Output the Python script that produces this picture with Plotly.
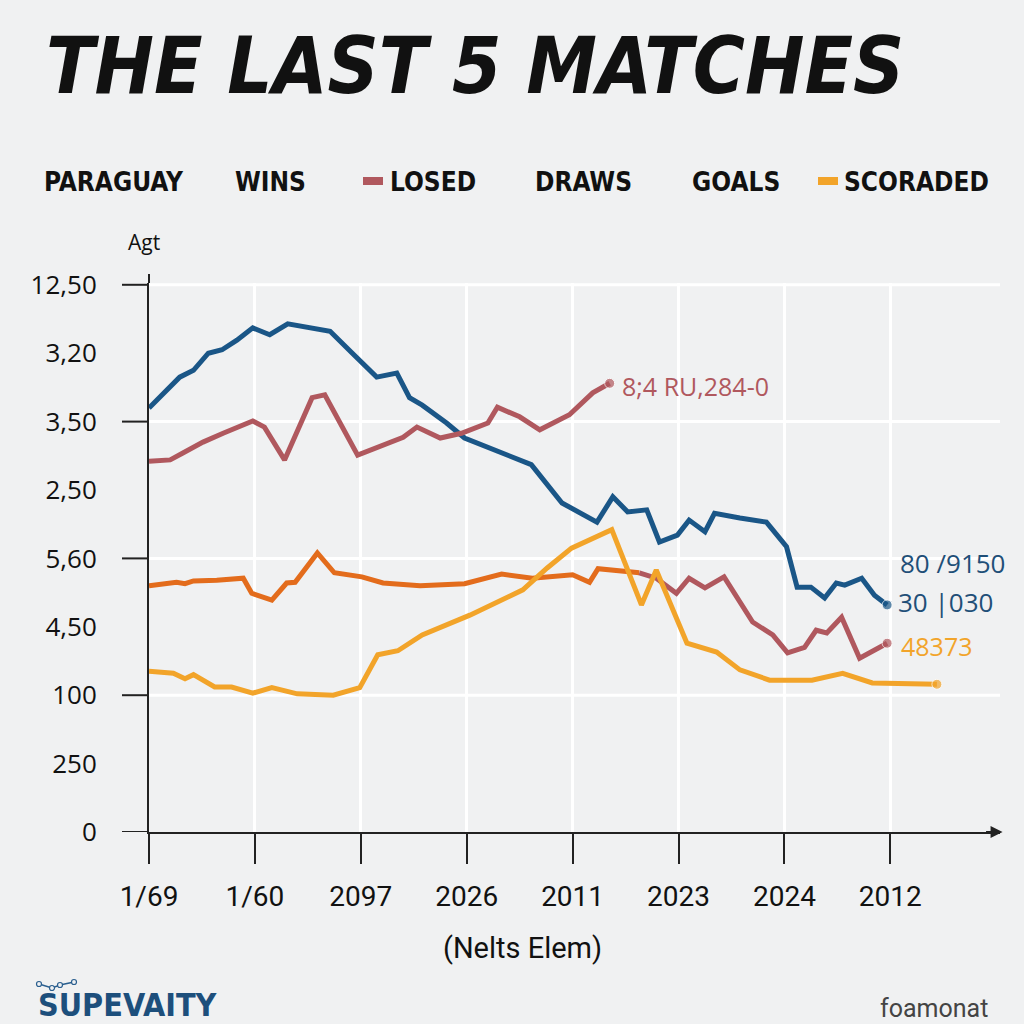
import plotly.graph_objects as go

# ---------------- data ----------------
x_tick_labels = ["1/69", "1/60", "2097", "2026", "2011", "2023", "2024", "2012"]
y_tick_labels = ["0", "250", "100", "4,50", "5,60", "2,50", "3,50", "3,20", "12,50"]
y_major_ticks = [0, 2, 4, 6, 8]

wins_x = [0, 0.15, 0.29, 0.42, 0.56, 0.69, 0.83, 0.98, 1.14, 1.31, 1.52, 1.71, 1.92, 2.15,
          2.34, 2.46, 2.58, 2.81, 2.98, 3.31, 3.61, 3.90, 4.23, 4.38, 4.52, 4.70, 4.82,
          4.99, 5.10, 5.25, 5.34, 5.58, 5.83, 6.02, 6.12, 6.25, 6.38, 6.49, 6.57, 6.73,
          6.85, 6.97]
wins_y = [6.20, 6.43, 6.65, 6.75, 7.00, 7.05, 7.19, 7.37, 7.27, 7.43, 7.38, 7.32, 7.00, 6.65,
          6.71, 6.35, 6.24, 5.98, 5.76, 5.56, 5.37, 4.81, 4.53, 4.90, 4.68, 4.71, 4.24,
          4.34, 4.56, 4.39, 4.66, 4.59, 4.53, 4.17, 3.58, 3.58, 3.42, 3.64, 3.61, 3.71,
          3.46, 3.32]

losed_x = [0, 0.20, 0.32, 0.51, 0.70, 0.98, 1.09, 1.28, 1.54, 1.66, 1.97, 2.18, 2.40, 2.53,
           2.75, 2.95, 3.20, 3.29, 3.50, 3.69, 3.97, 4.19, 4.35]
losed_y = [5.42, 5.44, 5.54, 5.70, 5.83, 6.01, 5.92, 5.44, 6.35, 6.39, 5.51, 5.63, 5.77, 5.92,
           5.76, 5.83, 5.98, 6.21, 6.07, 5.88, 6.10, 6.42, 6.56]

draws_x = [0, 0.20, 0.26, 0.34, 0.42, 0.64, 0.89, 0.97, 1.16, 1.30, 1.38, 1.59, 1.75, 2.01,
           2.21, 2.56, 2.98, 3.33, 3.62, 4.00, 4.16, 4.24, 4.63,
           4.79, 4.98, 5.10, 5.25, 5.43, 5.70, 5.89, 6.03, 6.19, 6.30, 6.40, 6.54, 6.71, 6.97]
draws_y = [3.60, 3.64, 3.65, 3.63, 3.67, 3.68, 3.71, 3.49, 3.39, 3.64, 3.65, 4.08, 3.79, 3.73,
           3.64, 3.60, 3.63, 3.77, 3.71, 3.76, 3.65, 3.85, 3.79,
           3.71, 3.49, 3.71, 3.57, 3.73, 3.07, 2.88, 2.62, 2.70, 2.95, 2.91, 3.14, 2.54, 2.76]
draws_color_split = 23   # points after this index are drawn in the "losed" colour

scored_x = [0, 0.23, 0.34, 0.42, 0.62, 0.78, 0.98, 1.16, 1.40, 1.74, 1.99, 2.16, 2.35, 2.58,
            3.03, 3.53, 3.76, 3.99, 4.37, 4.65, 4.79, 5.08, 5.36, 5.58, 5.86, 6.26, 6.55,
            6.83, 7.44]
scored_y = [2.35, 2.32, 2.24, 2.30, 2.12, 2.12, 2.03, 2.11, 2.02, 2.00, 2.11, 2.59, 2.65, 2.88,
            3.17, 3.54, 3.86, 4.15, 4.42, 3.32, 3.83, 2.76, 2.63, 2.37, 2.22, 2.22, 2.32,
            2.18, 2.16]

legend_items = ["PARAGUAY", "WINS", "LOSED", "DRAWS", "GOALS", "SCORADED"]

# ---------------- styling ----------------
BG = "#f0f1f2"
BLUE = "#1a5687"
MAUVE = "#b0585e"
ORANGE = "#e36c1c"
YELLOW = "#f2a42a"
INK = "#111111"
COND = "DejaVu Sans Condensed, Roboto Condensed, Liberation Sans Narrow, Roboto, sans-serif"
REG = "Roboto, sans-serif"

W, H = 1024, 1024
L, R, T, B = 149, 24, 283, 192
PW, PH = W - L - R, H - T - B


def px_x(px):
    return (px - L) / PW


def px_y(py):
    return (H - B - py) / PH


def end_sizes(n, s=10):
    return [0] * (n - 1) + [s]


fig = go.Figure()

fig.add_trace(go.Scatter(x=wins_x, y=wins_y, mode="lines+markers",
                         line=dict(color=BLUE, width=5),
                         marker=dict(size=end_sizes(len(wins_x)), color=BLUE),
                         showlegend=False))
fig.add_trace(go.Scatter(x=losed_x, y=losed_y, mode="lines+markers",
                         line=dict(color=MAUVE, width=5),
                         marker=dict(size=end_sizes(len(losed_x)), color=MAUVE),
                         showlegend=False))
k = draws_color_split
fig.add_trace(go.Scatter(x=draws_x[:k], y=draws_y[:k], mode="lines",
                         line=dict(color=ORANGE, width=5), showlegend=False))
fig.add_trace(go.Scatter(x=draws_x[k - 1:], y=draws_y[k - 1:], mode="lines+markers",
                         line=dict(color=MAUVE, width=5),
                         marker=dict(size=end_sizes(len(draws_x[k - 1:])), color=MAUVE),
                         showlegend=False))
fig.add_trace(go.Scatter(x=scored_x, y=scored_y, mode="lines+markers",
                         line=dict(color=YELLOW, width=5),
                         marker=dict(size=end_sizes(len(scored_x)), color=YELLOW),
                         showlegend=False))

shapes = []
# horizontal white gridlines + left tick marks at the major ticks
for v in y_major_ticks:
    if v > 0:
        shapes.append(dict(type="line", xref="paper", yref="y", x0=0, x1=1, y0=v, y1=v,
                           line=dict(color="white", width=3), layer="below"))
    shapes.append(dict(type="line", xref="paper", yref="y", x0=px_x(122), x1=0, y0=v, y1=v,
                       line=dict(color="#222", width=2)))
# short extension of the y-axis line above the plot area
shapes.append(dict(type="line", xref="paper", yref="paper", x0=0, x1=0, y0=1, y1=px_y(274),
                   line=dict(color="#222", width=2)))

# legend swatches
shapes.append(dict(type="rect", xref="paper", yref="paper", x0=px_x(363), x1=px_x(383),
                   y0=px_y(185), y1=px_y(177), fillcolor=MAUVE, line=dict(width=0)))
shapes.append(dict(type="rect", xref="paper", yref="paper", x0=px_x(818), x1=px_x(838),
                   y0=px_y(185), y1=px_y(177), fillcolor=YELLOW, line=dict(width=0)))

# small logo icon
logo_col = "#2a5f8f"
shapes.append(dict(type="path", xref="paper", yref="paper",
                   path="M {} {} L {} {} L {} {} L {} {}".format(
                       px_x(39), px_y(984), px_x(52), px_y(988), px_x(60), px_y(985), px_x(74), px_y(982)),
                   line=dict(color=logo_col, width=1.5)))
for cx, cy in [(39, 984), (52, 988), (60, 985), (74, 982)]:
    shapes.append(dict(type="circle", xref="paper", yref="paper",
                       x0=px_x(cx - 2.5), x1=px_x(cx + 2.5), y0=px_y(cy + 2.5), y1=px_y(cy - 2.5),
                       line=dict(color=logo_col, width=1.2), fillcolor=BG))

annotations = []


def txt(text, x, y, size, color=INK, family=COND, xanchor="left", weight="normal", italic=False):
    annotations.append(dict(text=text, x=px_x(x), y=px_y(y), xref="paper", yref="paper",
                            xanchor=xanchor, yanchor="middle", showarrow=False,
                            font=dict(family=family, size=size, color=color, weight=weight,
                                      style="italic" if italic else "normal")))


# title
txt("THE LAST 5 MATCHES", 44, 66, 79, weight=900, italic=True)

# legend row
legend_x = [42, 233, 388, 533, 690, 842]
for lab, lx in zip(legend_items, legend_x):
    txt(lab, lx, 182, 26, weight="bold")

txt("Agt", 126, 242, 21, family="Open Sans")

# end-of-line labels
txt("8;4 RU,284-0", 620, 386, 25, color=MAUVE, family="Open Sans")
txt("80 /9150", 898, 563, 26, color="#1f4f78", family="Open Sans")
txt("30 |030", 896, 602, 26, color="#1f4f78", family="Open Sans")
txt("48373", 899, 646, 25, color=YELLOW, family="Open Sans")

# axis title & footer
txt("(Nelts Elem)", 522, 948, 29, family=REG, xanchor="center")
txt("SUPEVAITY", 36, 1005, 32, color="#1d4f7c", family=COND, weight="bold")
txt("foamonat", 990, 1008, 25, color="#444444", family=REG, xanchor="right")

# arrow at the end of the x-axis
annotations.append(dict(x=1.003, y=0, xref="paper", yref="y", ax=-18, ay=0,
                        showarrow=True, arrowhead=2, arrowsize=1.2, arrowwidth=2,
                        arrowcolor="#222", text=""))

fig.update_layout(
    width=W, height=H,
    margin=dict(l=L, r=R, t=T, b=B),
    paper_bgcolor=BG, plot_bgcolor=BG,
    shapes=shapes, annotations=annotations,
    xaxis=dict(range=[0, PW / 105.9], tickmode="array", tickvals=list(range(len(x_tick_labels))),
               ticktext=x_tick_labels, ticks="outside", ticklen=30, tickwidth=2, tickcolor="#222",
               showline=True, linecolor="#222", linewidth=2, showgrid=True, gridcolor="white",
               gridwidth=3, zeroline=False, ticklabelstandoff=8,
               tickfont=dict(family=REG, size=28, color=INK)),
    yaxis=dict(range=[0, PH / 68.4], tickmode="array", tickvals=list(range(len(y_tick_labels))),
               ticktext=y_tick_labels, ticks="", showline=True, linecolor="#222", linewidth=2,
               showgrid=False, zeroline=False, ticklabelstandoff=45,
               tickfont=dict(family="Open Sans", size=26, color=INK)),
)

fig.write_html("out.html", config={"displayModeBar": False},
               post_script="document.body.style.margin='0';")
